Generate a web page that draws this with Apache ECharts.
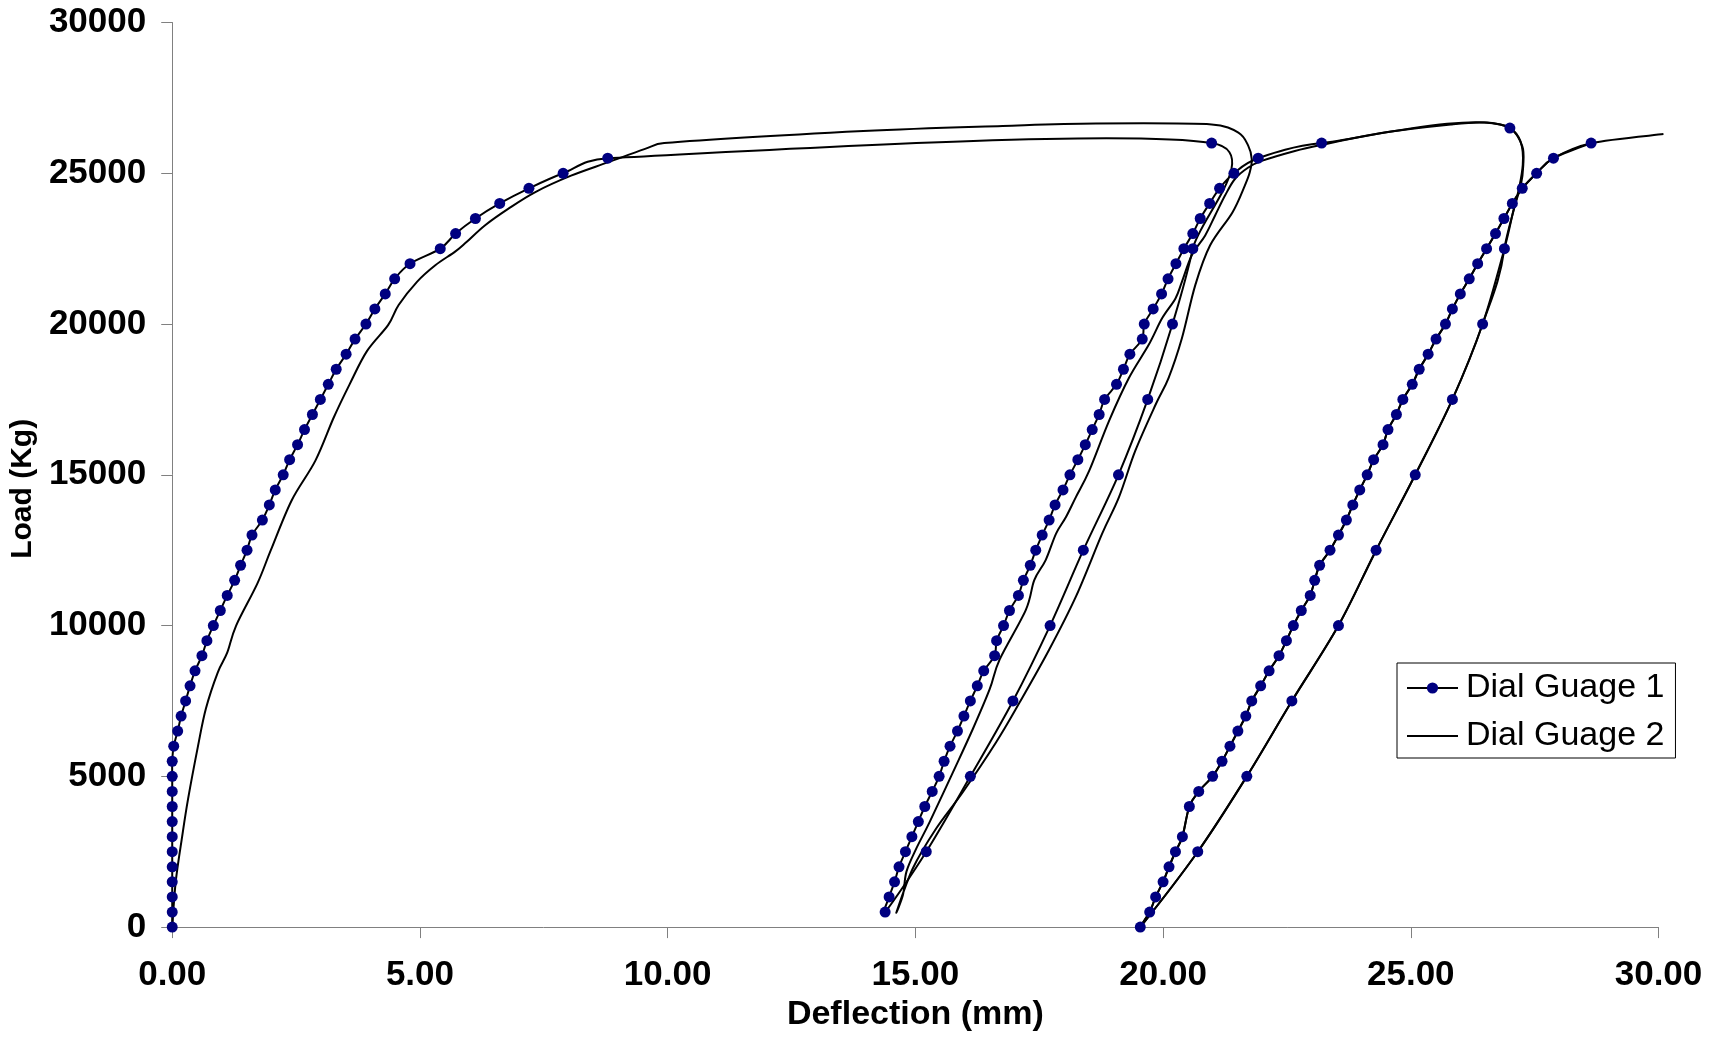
<!DOCTYPE html>
<html>
<head>
<meta charset="utf-8">
<script src="https://cdn.jsdelivr.net/npm/echarts@6/dist/echarts.min.js"></script>
<style>
html,body{margin:0;padding:0;background:#fff;}
#chart{width:1720px;height:1037px;}
</style>
</head>
<body>
<div id="chart"></div>
<script>
// ---- Data: [deflection (mm), load (kg)] ----
// Dial Guage 1
const g1Loading1 = [[0,0],[0,500],[0,1000],[0,1500],[0,2000],[0,2500],[0,3000],[0,3500],[0,4000],[0,4500],[0,5000],[0,5500],[0.03,6000],[0.11,6500],[0.18,7000],[0.27,7500],[0.36,8000],[0.46,8500],[0.60,9000],[0.70,9500],[0.83,10000],[0.97,10500],[1.11,11000],[1.26,11500],[1.38,12000],[1.51,12500],[1.61,13000],[1.82,13500],[1.96,14000],[2.08,14500],[2.24,15000],[2.37,15500],[2.53,16000],[2.67,16500],[2.83,17000],[2.99,17500],[3.15,18000],[3.31,18500],[3.51,19000],[3.69,19500],[3.91,20000],[4.09,20500],[4.30,21000],[4.49,21500],[4.80,22000],[5.41,22500],[5.72,23000],[6.12,23500],[6.61,24000],[7.20,24500],[7.89,25000],[8.79,25500],[20.98,26000]];
const g1Unload1 = [[20.60,22500],[20.19,20000],[19.69,17500],[19.10,15000],[18.39,12500],[17.72,10000],[16.97,7500],[16.11,5000],[15.22,2500],[14.39,500]];
const g1Reload2 = [[14.47,1000],[14.58,1500],[14.67,2000],[14.80,2500],[14.93,3000],[15.06,3500],[15.19,4000],[15.34,4500],[15.48,5000],[15.58,5500],[15.70,6000],[15.85,6500],[15.98,7000],[16.11,7500],[16.25,8000],[16.38,8500],[16.60,9000],[16.64,9500],[16.78,10000],[16.90,10500],[17.08,11000],[17.18,11500],[17.32,12000],[17.43,12500],[17.56,13000],[17.70,13500],[17.82,14000],[17.98,14500],[18.12,15000],[18.28,15500],[18.43,16000],[18.57,16500],[18.71,17000],[18.82,17500],[19.06,18000],[19.20,18500],[19.33,19000],[19.58,19500],[19.62,20000],[19.80,20500],[19.97,21000],[20.10,21500],[20.26,22000],[20.42,22500],[20.60,23000],[20.75,23500],[20.94,24000],[21.14,24500],[21.43,25000],[21.92,25500],[23.20,26000],[27.00,26500]];
const g1Unload2 = [[26.89,22500],[26.45,20000],[25.84,17500],[25.09,15000],[24.30,12500],[23.54,10000],[22.60,7500],[21.69,5000],[20.70,2500],[19.54,0]];
const g1Reload3 = [[19.73,500],[19.85,1000],[20.00,1500],[20.12,2000],[20.25,2500],[20.39,3000],[20.53,4000],[20.72,4500],[21.00,5000],[21.19,5500],[21.35,6000],[21.51,6500],[21.67,7000],[21.79,7500],[21.97,8000],[22.14,8500],[22.34,9000],[22.49,9500],[22.63,10000],[22.79,10500],[22.97,11000],[23.06,11500],[23.16,12000],[23.37,12500],[23.54,13000],[23.70,13500],[23.83,14000],[23.97,14500],[24.12,15000],[24.25,15500],[24.44,16000],[24.54,16500],[24.71,17000],[24.84,17500],[25.03,18000],[25.17,18500],[25.35,19000],[25.51,19500],[25.70,20000],[25.84,20500],[26.00,21000],[26.18,21500],[26.35,22000],[26.53,22500],[26.71,23000],[26.88,23500],[27.05,24000],[27.25,24500],[27.54,25000],[27.88,25500],[28.64,26000]];

// Dial Guage 2
const g2Loading1 = [[0,0],[0.07,1500],[0.20,3000],[0.32,4250],[0.52,6000],[0.68,7250],[0.92,8450],[1.11,9100],[1.29,10000],[1.72,11400],[1.99,12500],[2.41,14150],[2.89,15470],[3.26,16900],[3.58,18000],[3.93,19100],[4.36,19970],[4.57,20630],[4.94,21400],[5.31,21950],[5.71,22400],[5.94,22720],[6.31,23270],[6.78,23820],[7.32,24370],[8.05,24920],[8.79,25360],[9.53,25800],[9.93,26000],[13.95,26400],[16.76,26570],[18.64,26650],[20.98,26620]];
const g2Unload1 = [[21.52,26350],[21.72,25910],[21.79,25470],[21.75,25030],[21.65,24590],[21.40,23700],[20.95,22610],[20.65,21290],[20.38,19530],[20.11,18210],[19.85,17330],[19.44,15800],[19.11,14260],[18.77,13050],[18.24,10960],[17.70,9200],[17.10,7440],[16.63,6130],[15.96,4480],[15.42,3270],[14.95,1950],[14.62,500]];
const g2Reload2 = [[14.75,1070],[14.82,1840],[15.02,2610],[15.29,3490],[15.76,5140],[16.16,6570],[16.50,7890],[16.70,8870],[17.23,10520],[17.40,11510],[17.63,12170],[17.84,13050],[18.04,13600],[18.24,14260],[18.51,15140],[18.91,16790],[19.31,18210],[19.71,19310],[19.98,20190],[20.25,20850],[20.38,21400],[20.58,22280],[20.85,22940],[21.05,23600],[21.25,24260],[21.45,24810],[21.72,25190],[21.99,25410],[22.66,25740],[23.16,25930],[24.47,26350],[25.81,26620],[26.48,26680],[27.00,26500]];
const g2Curl2 = [[27.25,25900],[27.27,25250],[27.22,24590],[27.08,23820]];
// Below the curl Dial Guage 2 runs on the same path as Dial Guage 1
const g2Unload2 = g1Unload2;
const g2Reload3 = g1Reload3;
const g2Tail = [[30.10,26300]];

const xTickLabels = ['0.00','5.00','10.00','15.00','20.00','25.00','30.00'];
const yTickLabels = ['0','5000','10000','15000','20000','25000','30000'];
const seriesNames = ['Dial Guage 1','Dial Guage 2'];

const guage1 = [].concat(g1Loading1, g1Unload1, g1Reload2, g1Unload2, g1Reload3);
const guage2 = [].concat(g2Loading1, g2Unload1, g2Reload2, g2Curl2, g2Unload2, g2Reload3, g2Tail);

// Spreadsheet-style smoothed line: cubic Bezier, tangent (next - prev)/6,
// each control leg limited to half of its segment. Positions come from the axes (api.coord).
function smoothPath(points, api) {
  const P = points.map(function (p) { return api.coord(p); });
  const n = P.length;
  let d = 'M' + P[0][0].toFixed(2) + ',' + P[0][1].toFixed(2);
  function leg(tx, ty, limit) {
    let lx = tx / 6, ly = ty / 6;
    const len = Math.sqrt(lx * lx + ly * ly);
    if (len > limit && len > 0) { lx *= limit / len; ly *= limit / len; }
    return [lx, ly];
  }
  for (let i = 0; i < n - 1; i++) {
    const a = P[i], b = P[i + 1];
    const prev = i > 0 ? P[i - 1] : a;
    const next = i + 2 < n ? P[i + 2] : b;
    const seg = Math.hypot(b[0] - a[0], b[1] - a[1]);
    const l0 = leg(b[0] - prev[0], b[1] - prev[1], seg / 2);
    const l1 = leg(next[0] - a[0], next[1] - a[1], seg / 2);
    const c1 = [a[0] + l0[0], a[1] + l0[1]];
    const c2 = [b[0] - l1[0], b[1] - l1[1]];
    d += 'C' + c1[0].toFixed(2) + ',' + c1[1].toFixed(2) + ' ' + c2[0].toFixed(2) + ',' + c2[1].toFixed(2) + ' ' + b[0].toFixed(2) + ',' + b[1].toFixed(2);
  }
  return d;
}
function curveSeries(id, points, z) {
  return {
    type: 'custom', name: id, coordinateSystem: 'cartesian2d', data: [[0, 0]], z: z,
    silent: true, clip: false, animation: false,
    renderItem: function (params, api) {
      return {type: 'path', shape: {pathData: smoothPath(points, api)},
              style: {fill: 'none', stroke: '#000000', lineWidth: 2}};
    }
  };
}

const FONT = 'Liberation Sans, Arial, sans-serif';
const chart = echarts.init(document.getElementById('chart'), null, {renderer: 'canvas'});
chart.setOption({
  animation: false,
  backgroundColor: '#ffffff',
  grid: {left: 166, right: 61.5, top: 22.5, bottom: 105, containLabel: false},
  legend: {
    data: [
      {name: seriesNames[0], lineStyle: {color: '#000', width: 2, opacity: 1}},
      {name: seriesNames[1], lineStyle: {color: '#000', width: 2, opacity: 1}, itemStyle: {opacity: 0}}
    ],
    orient: 'vertical',
    left: 1397, top: 663,
    itemWidth: 51, itemHeight: 14, itemGap: 14,
    padding: [8, 11, 5, 9],
    borderColor: '#000', borderWidth: 1, backgroundColor: '#fff',
    selectedMode: false,
    textStyle: {fontFamily: FONT, fontSize: 34, color: '#000', lineHeight: 34, padding: [0, 0, 0, 3]}
  },
  xAxis: {
    type: 'value', min: 0, max: 30, interval: 5,
    name: 'Deflection (mm)', nameLocation: 'middle', nameGap: 65,
    nameTextStyle: {fontFamily: FONT, fontSize: 34, fontWeight: 'bold', color: '#000'},
    axisLine: {lineStyle: {color: '#808080', width: 1}},
    axisTick: {show: true, inside: false, length: 11, lineStyle: {color: '#808080'}},
    axisLabel: {margin: 31, fontFamily: FONT, fontSize: 35, fontWeight: 'bold', color: '#000',
      formatter: function (v) { return xTickLabels[Math.round(v / 5)]; }},
    splitLine: {show: false}
  },
  yAxis: {
    type: 'value', min: 0, max: 30000, interval: 5000,
    name: 'Load (Kg)', nameLocation: 'middle', nameGap: 119,
    nameTextStyle: {fontFamily: FONT, fontSize: 30, fontWeight: 'bold', color: '#000', padding: [0, 28, 0, 0]},
    axisLine: {show: true, lineStyle: {color: '#808080', width: 1}},
    axisTick: {show: true, inside: false, length: 11, lineStyle: {color: '#808080'}},
    axisLabel: {margin: 26, fontFamily: FONT, fontSize: 35, fontWeight: 'bold', color: '#000',
      formatter: function (v) { return yTickLabels[Math.round(v / 5000)]; }},
    splitLine: {show: false}
  },
  series: [
    {
      name: seriesNames[0], type: 'line', data: guage1, z: 4,
      symbol: 'circle', symbolSize: 11, showSymbol: true, showAllSymbol: true,
      itemStyle: {color: '#000080', borderWidth: 0},
      lineStyle: {color: '#000000', width: 2, opacity: 0},
      clip: false, silent: true
    },
    {
      name: seriesNames[1], type: 'line', data: guage2, z: 1,
      symbol: 'none',
      itemStyle: {color: '#000000'},
      lineStyle: {color: '#000000', width: 2, opacity: 0},
      clip: false, silent: true
    },
    curveSeries('curve-guage-2', guage2, 2),
    curveSeries('curve-guage-1', guage1, 3)
  ]
});
</script>
</body>
</html>
